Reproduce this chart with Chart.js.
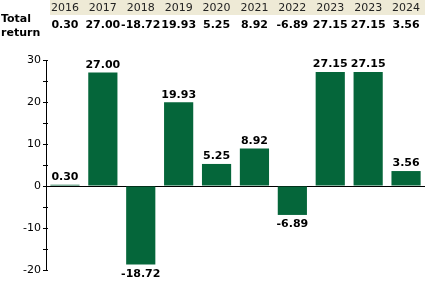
<!DOCTYPE html>
<html>
<head>
<meta charset="utf-8">
<script src="https://cdn.jsdelivr.net/npm/chart.js@4"></script>
<style>
  html, body { margin: 0; padding: 0; background: #fff; }
  #wrap { width: 425px; height: 288px; position: relative; }
</style>
</head>
<body>
<div id="wrap"><canvas id="returnChart"></canvas></div>
<script>
const years = ['2016', '2017', '2018', '2019', '2020', '2021', '2022', '2023', '2023', '2024'];
const totalReturn = [0.30, 27.00, -18.72, 19.93, 5.25, 8.92, -6.89, 27.15, 27.15, 3.56];
const rowLabel = ['Total', 'return'];
const yTicks = [-20, -10, 0, 10, 20, 30];

const FONT = 'DejaVu Sans, Verdana, sans-serif';
const GREEN = '#05663A';
const BAND = '#EEEAD6';

// header table + value labels on the bars
const extras = {
    id: 'extras',
    afterDraw(chart) {
        const ctx = chart.ctx;
        const x = chart.scales.x;
        const y = chart.scales.y;
        ctx.save();
        ctx.fillStyle = BAND;
        ctx.fillRect(50, 0, chart.width - 50, 15);

        ctx.textAlign = 'center';
        ctx.textBaseline = 'middle';
        ctx.fillStyle = '#222';
        ctx.font = '11px ' + FONT;
        years.forEach((yr, i) => ctx.fillText(yr, x.getPixelForValue(i), 8));

        ctx.fillStyle = '#000';
        ctx.font = 'bold 11px ' + FONT;
        totalReturn.forEach((v, i) => ctx.fillText(v.toFixed(2), x.getPixelForValue(i), 25));

        ctx.textAlign = 'left';
        ctx.fillText(rowLabel[0], 1, 19);
        ctx.fillText(rowLabel[1], 1, 33);

        // inner half of the axis tick marks
        ctx.strokeStyle = '#000';
        ctx.lineWidth = 1;
        y.ticks.forEach(t => {
            const py = Math.round(y.getPixelForValue(t.value)) + 0.5;
            ctx.beginPath();
            ctx.moveTo(y.right, py);
            ctx.lineTo(y.right + 2, py);
            ctx.stroke();
        });

        // bar labels
        const meta = chart.getDatasetMeta(0);
        ctx.textAlign = 'center';
        meta.data.forEach((bar, i) => {
            const v = totalReturn[i];
            if (v >= 0) {
                ctx.textBaseline = 'bottom';
                ctx.fillText(v.toFixed(2), bar.x, bar.y - 2);
            } else {
                ctx.textBaseline = 'top';
                ctx.fillText(v.toFixed(2), bar.x, bar.y + 4);
            }
        });
        ctx.restore();
    }
};

new Chart(document.getElementById('returnChart'), {
    type: 'bar',
    data: {
        labels: years,
        datasets: [{
            data: totalReturn,
            backgroundColor: GREEN,
            borderWidth: 0,
            categoryPercentage: 1,
            barPercentage: 0.77
        }]
    },
    options: {
        responsive: true,
        maintainAspectRatio: false,
        animation: false,
        layout: { padding: { top: 60, bottom: 18, left: 0, right: 0 } },
        plugins: {
            legend: { display: false },
            tooltip: { enabled: false }
        },
        scales: {
            x: {
                display: false,
                offset: true
            },
            y: {
                min: -20,
                max: 30,
                afterFit(scale) { scale.width = 46; },
                ticks: {
                    stepSize: 5,
                    color: '#000',
                    font: { family: FONT, size: 11 },
                    padding: 2,
                    callback: v => (yTicks.includes(v) ? String(v) : '')
                },
                grid: {
                    color: c => (c.tick && c.tick.value === 0 ? '#000' : 'rgba(0,0,0,0)'),
                    tickColor: '#000',
                    tickLength: 3,
                    lineWidth: 1
                },
                border: { display: true, color: '#000', width: 1 }
            }
        }
    },
    plugins: [extras]
});
</script>
</body>
</html>
